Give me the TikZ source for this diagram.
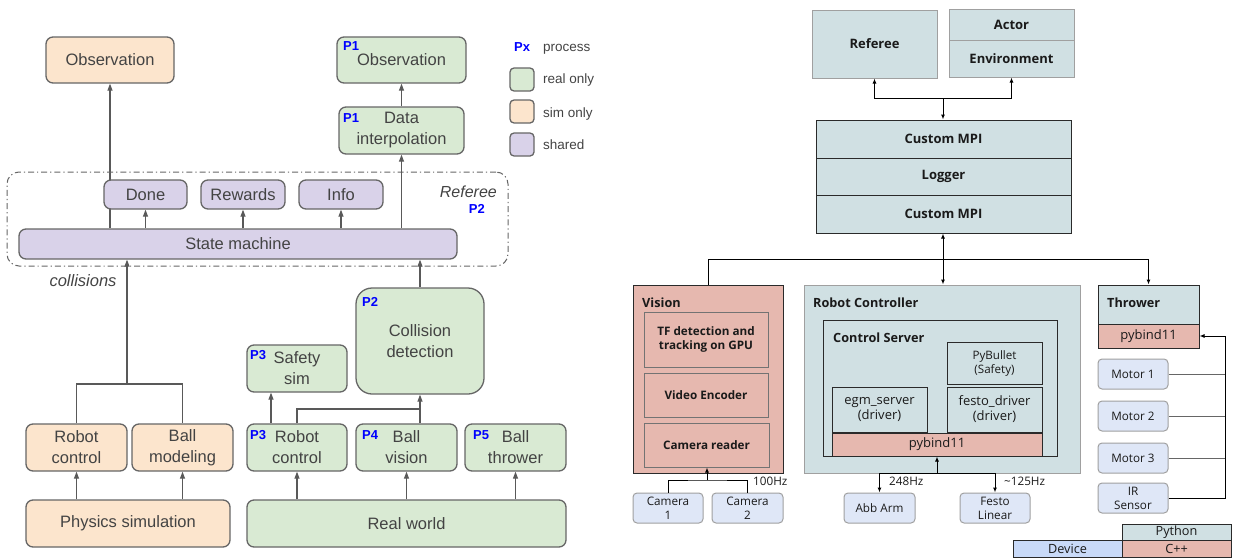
\documentclass[tikz,border=0pt]{standalone}
\usepackage{fontspec}
\setmainfont{Liberation Sans}
\newfontfamily\osans{Open Sans}
\usetikzlibrary{arrows.meta,calc}
\pgfdeclarelayer{background}
\pgfsetlayers{background,main}
\definecolor{simc}{HTML}{FCE5CD}
\definecolor{realc}{HTML}{D9EAD3}
\definecolor{sharedc}{HTML}{D9D2E9}
\definecolor{edgec}{HTML}{666666}
\definecolor{arrc}{HTML}{595959}
\definecolor{txtc}{HTML}{434343}
\definecolor{pblue}{HTML}{0000FF}
\definecolor{tealc}{HTML}{D0E0E3}
\definecolor{salmc}{HTML}{E6B8AF}
\definecolor{devc}{HTML}{DFE7F7}
\definecolor{devlc}{HTML}{C9DAF8}
\definecolor{rgray}{HTML}{A0A0A0}
\definecolor{rdark}{HTML}{2A2A2A}
\definecolor{rtext}{HTML}{1A1A1A}
\newcommand\mybox[7]{\node[#2,minimum width={(#5)-(#3)},minimum height={(#6)-(#4)}] (#1) at ({((#3)+(#5))/2},{((#4)+(#6))/2}) {#7};}
\tikzset{
 lb/.style={draw=edgec,line width=1.3pt,rounded corners=7pt,text=txtc,font=\fontsize{16.5}{21}\selectfont,align=center,inner sep=0pt},
 sim/.style={lb,fill=simc},
 real/.style={lb,fill=realc},
 shr/.style={lb,fill=sharedc},
 frame/.style={draw=edgec,line width=1pt,dash pattern=on 6pt off 3pt on 1.2pt off 3pt,rounded corners=12pt,inner sep=0pt},
 plab/.style={text=pblue,font=\fontsize{13}{13}\selectfont\bfseries,inner sep=0pt,anchor=base west},
 legt/.style={text=txtc,font=\fontsize{13.5}{14}\selectfont,inner sep=0pt,anchor=base west},
 larr/.style={draw=arrc,line width=1.1pt,-{Triangle[length=7pt,width=5pt]}},
 lline/.style={draw=arrc,line width=1.1pt},
 rbase/.style={line width=1pt,inner sep=0pt,align=center,text=rtext,font=\osans\fontsize{12.7}{14}\selectfont},
 tbox/.style={rbase,fill=tealc,draw=rgray,font=\osans\bfseries\fontsize{13}{15}\selectfont},
 tboxk/.style={rbase,fill=tealc,draw=rdark},
 mpibox/.style={rbase,fill=tealc,draw=rdark,font=\osans\bfseries\fontsize{13}{15}\selectfont},
 sbox/.style={rbase,fill=salmc,draw=rdark},
 vbox/.style={rbase,fill=salmc,draw=gray!90!black,font=\osans\bfseries\fontsize{11.7}{14}\selectfont},
 dev/.style={rbase,fill=devc,draw=rgray,rounded corners=4pt,font=\osans\fontsize{11.7}{14}\selectfont},
 legdev/.style={rbase,fill=devlc,draw=rdark},
 hdr/.style={inner sep=0pt,anchor=base west,text=rtext,font=\osans\bfseries\fontsize{12.7}{14}\selectfont},
 hz/.style={inner sep=0pt,anchor=base west,text=rtext,font=\osans\fontsize{11.7}{14}\selectfont},
 rarr/.style={draw=black,line width=1pt,-{Latex[length=5pt,width=4pt]}},
 rline/.style={draw=black,line width=1pt},
 rlineg/.style={draw=gray!80!black,line width=1pt},
}
\begin{document}
\begin{tikzpicture}[x=1pt,y=-1pt]
\useasboundingbox (0,0) rectangle (1233,557);
% ---------------- left diagram ----------------
\mybox{frm}{frame}{7}{172}{508}{266}{}
\mybox{obs1}{sim}{46}{37}{174}{83}{Observation}
\mybox{done}{shr}{104}{180}{187}{209}{Done}
\mybox{rew}{shr}{201}{180}{285}{209}{Rewards}
\mybox{info}{shr}{299}{180}{383}{209}{Info}
\mybox{sm}{shr}{19}{229}{457}{259}{State machine}
\mybox{obs2}{real}{337}{37}{466}{83}{Observation}
\mybox{di}{real}{339}{107}{464}{154}{Data\\interpolation}
\mybox{cd}{real,rounded corners=16pt}{356}{288}{484}{394}{Collision\\detection}
\mybox{ss}{real}{247}{345}{347}{392}{Safety\\sim}
\mybox{rc1}{sim}{26}{424}{127}{471}{Robot\\control}
\mybox{bm}{sim}{132}{424}{233}{471}{Ball\\modeling}
\mybox{ps}{sim}{26}{500}{230}{547}{Physics simulation}
\mybox{rc2}{real}{247}{424}{347}{471}{Robot\\control}
\mybox{bv}{real}{356}{424}{457}{471}{Ball\\vision}
\mybox{bt}{real}{465}{424}{566}{471}{Ball\\thrower}
\mybox{rw}{real}{247}{500}{566}{547}{Real world}
\node[plab] (p1a) at (343,50) {P1};
\node[plab] (p1b) at (343,122) {P1};
\node[plab] (p3a) at (250,359) {P3};
\node[plab] (p2a) at (362,306) {P2};
\node[plab] (p3b) at (250,439) {P3};
\node[plab] (p4) at (362,439) {P4};
\node[plab] (p5) at (473,439) {P5};
\node[inner sep=0pt,anchor=base east,text=txtc,font=\fontsize{16}{16}\selectfont\itshape] (reflab) at (497,197) {Referee};
\node[plab,anchor=base east] (p2b) at (485,213) {P2};
\node[inner sep=0pt,anchor=base,text=txtc,font=\fontsize{16.5}{16}\selectfont\itshape] (coll) at (83,286) {collisions};
% legend
\node[plab] (px) at (514,51) {Px};
\node[legt] (lt1) at (543,51) {process};
\mybox{lg1}{real,rounded corners=4pt}{510}{68}{534}{91}{}
\mybox{lg2}{sim,rounded corners=4pt}{510}{100}{534}{123}{}
\mybox{lg3}{shr,rounded corners=4pt}{510}{133}{534}{156}{}
\node[legt] (lt2) at (543,83) {real only};
\node[legt] (lt3) at (543,117) {sim only};
\node[legt] (lt4) at (543,149) {shared};
% left edges
\begin{pgfonlayer}{background}
\draw[larr] (sm.north -| obs1.south) -- (obs1.south);
\end{pgfonlayer}
\draw[larr] (sm.north -| done.south) -- (done.south);
\draw[larr] (sm.north -| rew.south) -- (rew.south);
\draw[larr] (sm.north -| info.south) -- (info.south);
\draw[larr] (sm.north -| di.south) -- (di.south);
\draw[larr] (di.north) -- (obs2.south);
\draw[larr] (cd.north) -- (cd.north |- sm.south);
\coordinate (sj) at (127,384);
\draw[larr] (sj) -- (sj |- sm.south);
\draw[lline] (rc1.north) |- (sj) -| (bm.north);
\draw[larr] (ps.north -| rc1.south) -- (rc1.south);
\draw[larr] (ps.north -| bm.south) -- (bm.south);
\draw[larr] (rw.north -| rc2.south) -- (rc2.south);
\draw[larr] (rw.north -| bv.south) -- (bv.south);
\draw[larr] (rw.north -| bt.south) -- (bt.south);
\draw[larr] ($(rc2.north)+(-26,0)$) -- ($(ss.south)+(-26,0)$);
\coordinate (cj) at (420,409);
\draw[lline] (rc2.north) |- (cj);
\draw[larr] (bv.north -| cd.south) -- (cd.south);
% ---------------- right diagram ----------------
\mybox{referee}{tbox}{812}{10}{937}{78}{Referee}
\mybox{actor}{tbox}{949}{9}{1074}{40}{Actor}
\mybox{env}{tbox}{949}{40}{1074}{77}{Environment}
\mybox{mpi1}{mpibox}{816}{120}{1071}{158}{Custom MPI}
\mybox{logger}{mpibox}{816}{158}{1071}{195}{Logger}
\mybox{mpi2}{mpibox}{816}{195}{1071}{233}{Custom MPI}
\mybox{vision}{sbox}{633}{285}{783}{473}{}
\node[hdr] (visionl) at (642,307) {Vision};
\mybox{tf}{vbox}{644}{312}{768}{367}{TF detection and\\tracking on GPU}
\mybox{ve}{vbox}{644}{373}{768}{417}{Video Encoder}
\mybox{cr}{vbox}{644}{423}{769}{467}{Camera reader}
\mybox{cam1}{dev}{633}{493}{703}{523}{Camera\\1}
\mybox{cam2}{dev}{712}{493}{783}{523}{Camera\\2}
\mybox{rc}{rbase,fill=tealc,draw=rgray}{804}{285}{1080}{473}{}
\node[hdr] (rcl) at (813,307) {Robot Controller};
\mybox{cs}{tboxk}{823}{320}{1057}{456}{}
\node[hdr] (csl) at (833,342) {Control Server};
\mybox{pyb}{tboxk,font=\osans\fontsize{11.6}{14}\selectfont}{947}{342}{1042}{384}{PyBullet\\(Safety)}
\mybox{festo}{tboxk,font=\osans\fontsize{13}{15}\selectfont}{947}{387}{1042}{432}{festo\_driver\\(driver)}
\mybox{egm}{tboxk,font=\osans\fontsize{13}{15}\selectfont}{832}{387}{927}{432}{egm\_server\\(driver)}
\mybox{rpyb}{sbox,font=\osans\fontsize{13}{15}\selectfont}{832}{433}{1042}{456}{pybind11}
\mybox{abb}{dev}{844}{493}{915}{523}{Abb Arm}
\mybox{fl}{dev}{960}{493}{1030}{523}{Festo\\Linear}
\mybox{thr}{tboxk}{1098}{285}{1199}{324}{}
\node[hdr] (thrl) at (1107,307) {Thrower};
\mybox{tpyb}{sbox,font=\osans\fontsize{13}{15}\selectfont}{1098}{324}{1199}{348}{pybind11}
\mybox{m1}{dev}{1098}{359}{1168}{389}{Motor 1}
\mybox{m2}{dev}{1098}{401}{1168}{431}{Motor 2}
\mybox{m3}{dev}{1098}{443}{1168}{473}{Motor 3}
\mybox{ir}{dev}{1098}{483}{1168}{513}{IR\\Sensor}
\mybox{lpy}{tboxk}{1122}{524}{1231}{540}{Python}
\mybox{lcpp}{sbox}{1122}{540}{1231}{557}{C++}
\mybox{ldev}{legdev}{1013}{540}{1122}{557}{Device}
\node[hz] (hz1) at (753,485) {100Hz};
\node[hz] (hz2) at (889,485) {248Hz};
\node[hz] (hz3) at (1004,485) {\textasciitilde125Hz};
% right edges
\coordinate (j1) at (943,98);
\draw[rarr] (j1) -- (j1 |- mpi1.north);
\draw[rarr] (j1) -| (referee.south);
\draw[rarr] (j1) -| (env.south);
\coordinate (j2) at (943,259);
\draw[rarr] (j2) -- (j2 |- mpi2.south);
\draw[rarr] (j2) -- (j2 |- rc.north);
\draw[rline] (j2) -| (vision.north);
\draw[rarr] (j2) -| (thr.north);
\coordinate (j3) at (937,473);
\draw[rarr] (j3) -- (rpyb.south);
\draw[rarr] (j3) -| (abb.north);
\draw[rarr] (j3) -| (fl.north);
\coordinate (j4) at (707,480);
\draw[rarr] (j4) -- (j4 |- cr.south);
\draw[rline] (cam1.north) |- (j4) -| (cam2.north);
\coordinate (bus) at (1225,336);
\draw[rlineg] (m1.east) -- (m1.east -| bus);
\draw[rlineg] (m2.east) -- (m2.east -| bus);
\draw[rlineg] (m3.east) -- (m3.east -| bus);
\draw[rarr] (ir.east) -| (bus) -- (tpyb.east);
\end{tikzpicture}
\end{document}
